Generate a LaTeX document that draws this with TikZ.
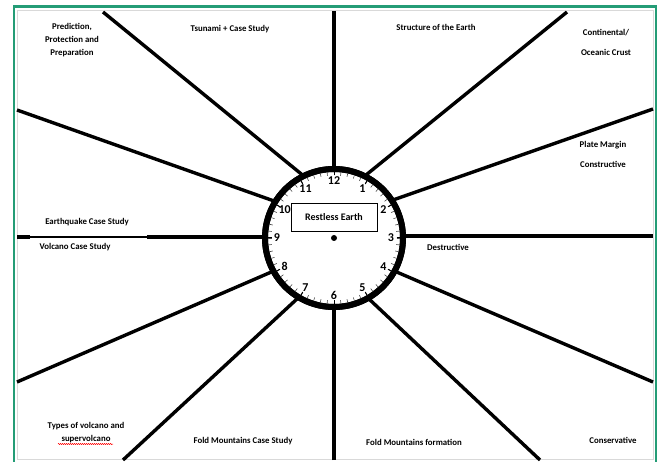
\documentclass[tikz,border=0pt]{standalone}
\usepackage{fontspec}
\setmainfont{Carlito}
\usetikzlibrary{decorations.pathmorphing,calc}
\definecolor{framegreen}{RGB}{36,156,118}
\begin{document}
\begin{tikzpicture}[x=1pt,y=-1pt,
  ray/.style={line width=3.4pt,black},
  lbl/.style={font=\fontsize{8.8}{13}\selectfont\bfseries,inner sep=0pt,align=center,text=black},
  num/.style={font=\fontsize{12}{12}\selectfont\bfseries,inner sep=0pt}]
\useasboundingbox (0,0) rectangle (672,462);
\fill[white] (0,0) rectangle (672,462);
% frames
\draw[black!15,line width=1pt] (17,10.5) rectangle (653,459);
\draw[framegreen,line width=2.6pt] (14,466) -- (14,6.5) -- (656,6.5) -- (656,466);
% clock
\coordinate (c) at (334,238);
\node[circle,draw,line width=6pt,minimum size=138pt,inner sep=0pt] (clock) at (c) {};
% rays: outer/inner coordinates
\coordinate (o1) at (334,11);    \coordinate (i1) at (334,169);
\coordinate (o2) at (103,12);    \coordinate (i2) at (302.5,175);
\coordinate (o3) at (17,110);    \coordinate (i3) at (274,201);
\coordinate (o5) at (17,382);    \coordinate (i5) at (272.5,271.5);
\coordinate (o6) at (123,460);   \coordinate (i6) at (298,298);
\coordinate (o7) at (334,460);   \coordinate (i7) at (334,307);
\coordinate (o8) at (540,460);   \coordinate (i8) at (369,299);
\coordinate (o9) at (653,382);   \coordinate (i9) at (395.5,271.5);
\coordinate (o10) at (653,236);  \coordinate (i10) at (403,236);
\coordinate (o11) at (653,109);  \coordinate (i11) at (393,200);
\coordinate (o12) at (567,12);   \coordinate (i12) at (366,175);
\foreach \k in {1,2,3,5,6,7,8,9,10,11,12}{\draw[ray] (o\k) -- (i\k);}
% left horizontal ray (thin middle part)
\coordinate (o4) at (17,237); \coordinate (m4a) at (30,237); \coordinate (m4b) at (147,237); \coordinate (i4) at (265,237);
\draw[ray] (o4) -- (m4a);
\draw[line width=1.4pt] (m4a) -- (m4b);
\draw[ray] (m4b) -- (i4);
% redraw ring on top
\draw[line width=6pt] (c) circle[radius=69];
% minute ticks
\foreach \m in {0,...,59}{
  \draw[line width=0.6pt,black!70] ($(c)+(\m*6:62.5)$) -- ($(c)+(\m*6:66)$);
}
\foreach \h in {0,...,11}{
  \draw[line width=1pt] ($(c)+(\h*30:62.5)$) -- ($(c)+(\h*30:66)$);
}
\fill (c) circle[radius=3pt];
% numbers
\foreach \n in {1,...,12}{
  \node[num] (n\n) at ($(c)+(\n*30-90:57)$) {\n};
}
% center box
\node[draw,line width=0.9pt,minimum width=86pt,minimum height=28pt,inner sep=0pt,
  font=\fontsize{10}{10}\selectfont\bfseries] (title) at (334,217) {Restless Earth};
% labels
\node[lbl] (t1) at (72,40) {Prediction,\\Protection and\\Preparation};
\node[lbl] (t2) at (230,29) {Tsunami + Case Study};
\node[lbl] (t3) at (436,27) {Structure of the Earth};
\node[lbl,align=center] (t4) at (606,42) {Continental/\\[7pt]Oceanic Crust};
\node[lbl] (t5) at (603,154) {Plate Margin\\[7pt]Constructive};
\node[lbl] (t6) at (87,222) {Earthquake Case Study};
\node[lbl] (t7) at (75,247) {Volcano Case Study};
\node[lbl] (t8) at (448,247) {Destructive};
\node[lbl] (t9) at (86,432.5) {Types of volcano and\\supervolcano};
\node[lbl] (t10) at (243,441) {Fold Mountains Case Study};
\node[lbl] (t11) at (414,442) {Fold Mountains formation};
\node[lbl] (t12) at (613,440) {Conservative};
\draw[red,line width=0.5pt,decorate,decoration={snake,segment length=2pt,amplitude=0.6pt}]
  (58,444) -- (113,444);
\end{tikzpicture}
\end{document}
